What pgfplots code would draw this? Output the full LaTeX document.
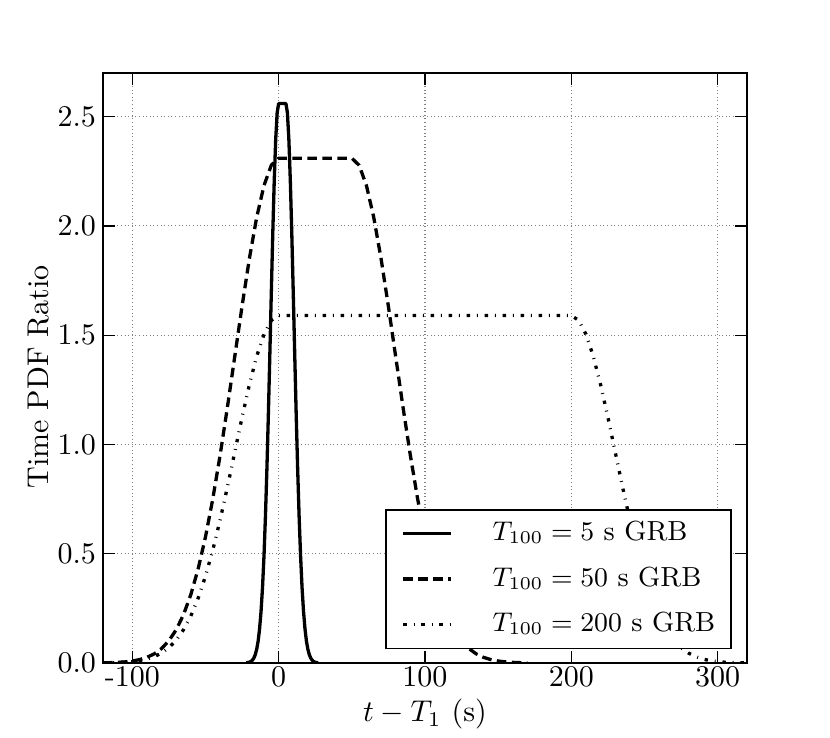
\documentclass[border=0pt]{standalone}
\usepackage{pgfplots}
\pgfplotsset{compat=1.18}
\usetikzlibrary{calc}
\begin{document}
\begin{tikzpicture}
\begin{axis}[
  scale only axis, width=214.67pt, height=196.67pt,
  xmin=-120, xmax=320, ymin=0, ymax=2.7,
  xtick={-100,0,100,200,300}, xticklabels={-100,0,100,200,300},
  ytick={0,0.5,1,1.5,2,2.5},
  yticklabel style={/pgf/number format/.cd,fixed,fixed zerofill,precision=1,/tikz/.cd,xshift=1.2pt},
  xticklabel style={inner ysep=1.5pt, yshift=0.5pt},
  tick align=inside, major tick length=4pt,
  tick style={black, line width=0.4pt},
  axis line style={line width=0.5pt},
  grid=major,
  major grid style={gray, line width=0.35pt, dash pattern=on 0.35pt off 0.85pt},
  xlabel={$t - T_1$ (s)}, ylabel={Time PDF Ratio},
  xlabel style={at={(axis description cs:0.5,-0.1)}, anchor=base, inner sep=0.5pt},
  ylabel style={at={(axis description cs:-0.0668,0.485)}, anchor=south},
  legend cell align=left,
  legend image code/.code={\draw[#1] (0pt,0pt) -- (15.7pt,0pt);},
  legend style={at={(0.9767,0.0237)}, anchor=south east, draw=black, line width=0.5pt,
    fill=white, inner xsep=5.3pt, inner ysep=3.3pt, row sep=5.8pt,
    font=\fontsize{9.2}{11}\selectfont,
    nodes={inner sep=0pt, text height=7pt, text depth=2.3pt},
    /tikz/every odd column/.append style={column sep=13.5pt}},
]
\addplot[black, line width=1.1pt, line join=round] coordinates {
(-22,0.0009) (-20,0.0034) (-19,0.0066) (-18,0.0121) (-17,0.0216) (-16,0.0372)
(-15,0.0621) (-14,0.100) (-13,0.157) (-12,0.237) (-11,0.346) (-10,0.490)
(-9,0.671) (-8,0.889) (-7,1.139) (-6,1.412) (-5,1.693) (-4,1.965) (-3,2.206)
(-2,2.396) (-1,2.518) (0,2.560) (5,2.560) (6,2.518) (7,2.396) (8,2.206)
(9,1.965) (10,1.693) (11,1.412) (12,1.139) (13,0.889) (14,0.671) (15,0.490)
(16,0.346) (17,0.237) (18,0.157) (19,0.100) (20,0.0621) (21,0.0372) (22,0.0216)
(23,0.0121) (24,0.0066) (25,0.0034) (27,0.0009)
};
\addlegendentry{$T_{100} = 5$ s GRB}
\addplot[black, line width=1.1pt, line join=round, dash pattern=on 3.2pt off 1.8pt] coordinates {
(-120,0.00077) (-115,0.00149) (-110,0.00278) (-105,0.00506) (-100,0.00894)
(-95,0.01536) (-90,0.0257) (-85,0.0417) (-80,0.0660) (-75,0.1015) (-70,0.1518)
(-65,0.2209) (-60,0.3126) (-55,0.430) (-50,0.576) (-45,0.750) (-40,0.950)
(-35,1.170) (-30,1.401) (-25,1.632) (-20,1.850) (-15,2.039) (-10,2.185)
(-5,2.278) (0,2.310) (50,2.310) (55,2.278) (60,2.185) (65,2.039) (70,1.850)
(75,1.632) (80,1.401) (85,1.170) (90,0.950) (95,0.750) (100,0.576) (105,0.430)
(110,0.3126) (115,0.2209) (120,0.1518) (125,0.1015) (130,0.0660) (135,0.0417)
(140,0.0257) (145,0.01536) (150,0.00894) (155,0.00506) (160,0.00278)
(165,0.00149) (170,0.00077)
};
\addlegendentry{$T_{100} = 50$ s GRB}
\addplot[black, line width=1.1pt, line join=round, dash pattern=on 1.1pt off 2.3pt on 0.3pt off 2.3pt] coordinates {
(-120,0.00053) (-115,0.00102) (-110,0.00191) (-105,0.00348) (-100,0.00615)
(-95,0.01057) (-90,0.01767) (-85,0.0287) (-80,0.0454) (-75,0.0699) (-70,0.1045)
(-65,0.1520) (-60,0.2151) (-55,0.2962) (-50,0.3965) (-45,0.5163) (-40,0.6536)
(-35,0.8050) (-30,0.9643) (-25,1.1235) (-20,1.273) (-15,1.403) (-10,1.504)
(-5,1.568) (0,1.590) (200,1.590) (205,1.568) (210,1.504) (215,1.403) (220,1.273)
(225,1.1235) (230,0.9643) (235,0.8050) (240,0.6536) (245,0.5163) (250,0.3965)
(255,0.2962) (260,0.2151) (265,0.1520) (270,0.1045) (275,0.0699) (280,0.0454)
(285,0.0287) (290,0.01767) (295,0.01057) (300,0.00615) (305,0.00348)
(310,0.00191) (315,0.00102) (320,0.00053)
};
\addlegendentry{$T_{100} = 200$ s GRB}
\end{axis}
\pgfresetboundingbox
\path ($(current axis.south west)+(-34.33pt,-25pt)$) rectangle ($(current axis.north east)+(27.67pt,24.33pt)$);
\end{tikzpicture}
\end{document}
